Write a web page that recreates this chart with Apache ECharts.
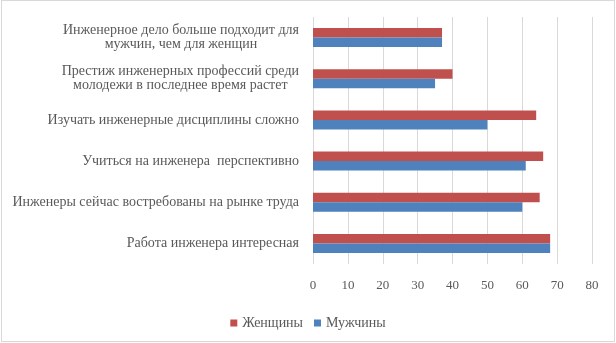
<!DOCTYPE html>
<html><head><meta charset="utf-8">
<script src="https://cdn.jsdelivr.net/npm/echarts@6/dist/echarts.min.js"></script>
<style>
html,body{margin:0;padding:0;background:#fff;}
#wrap{position:relative;width:616px;height:343px;}
#c{width:616px;height:343px;}
#frame{position:absolute;left:1px;top:0px;width:612px;height:340px;border:1px solid #d9d9d9;pointer-events:none;}
</style></head>
<body>
<div id="wrap"><div id="c"></div><div id="frame"></div></div>
<script>
const categories = [
  'Работа инженера интересная',
  'Инженеры сейчас востребованы на рынке труда',
  'Учиться на инженера  перспективно',
  'Изучать инженерные дисциплины сложно',
  'Престиж инженерных профессий среди\nмолодежи в последнее время растет',
  'Инженерное дело больше подходит для\nмужчин, чем для женщин'
];
const women = [68, 65, 66, 64, 40, 37];
const men = [68, 60, 61, 50, 35, 37];
const xTicks = [0, 10, 20, 30, 40, 50, 60, 70, 80];

const font = "'Liberation Serif', 'Times New Roman', serif";
const chart = echarts.init(document.getElementById('c'));
chart.setOption({
  animation: false,
  textStyle: { fontFamily: font },
  grid: { left: 313, right: 24, top: 17, bottom: 79, containLabel: false },
  legend: {
    data: ['Женщины', 'Мужчины'],
    bottom: 8,
    left: 'center',
    itemWidth: 7, itemHeight: 7, itemGap: 11,
    icon: 'rect',
    textStyle: { fontFamily: font, fontSize: 14, color: '#595959' }
  },
  xAxis: {
    type: 'value',
    min: xTicks[0], max: xTicks[xTicks.length - 1], interval: 10,
    axisLine: { show: false }, axisTick: { show: false },
    splitLine: { show: true, lineStyle: { color: '#d9d9d9', width: 1 } },
    axisLabel: { fontFamily: font, fontSize: 13, color: '#595959', margin: 15 }
  },
  yAxis: {
    type: 'category',
    data: categories,
    axisLine: { show: false }, axisTick: { show: false },
    axisLabel: {
      margin: 14,
      formatter: function (v) { return v.split('\n').map(s => '{c|' + s + '}').join('\n'); },
      rich: { c: { align: 'center', fontFamily: font, fontSize: 14, color: '#595959', lineHeight: 14 } }
    }
  },
  series: [
    { name: 'Женщины', type: 'bar', data: women, itemStyle: { color: '#C0504D' }, barGap: '0%', barCategoryGap: '54%' },
    { name: 'Мужчины', type: 'bar', data: men, itemStyle: { color: '#4F81BD' }, barGap: '0%', barCategoryGap: '54%' }
  ]
});
</script>
</body></html>
